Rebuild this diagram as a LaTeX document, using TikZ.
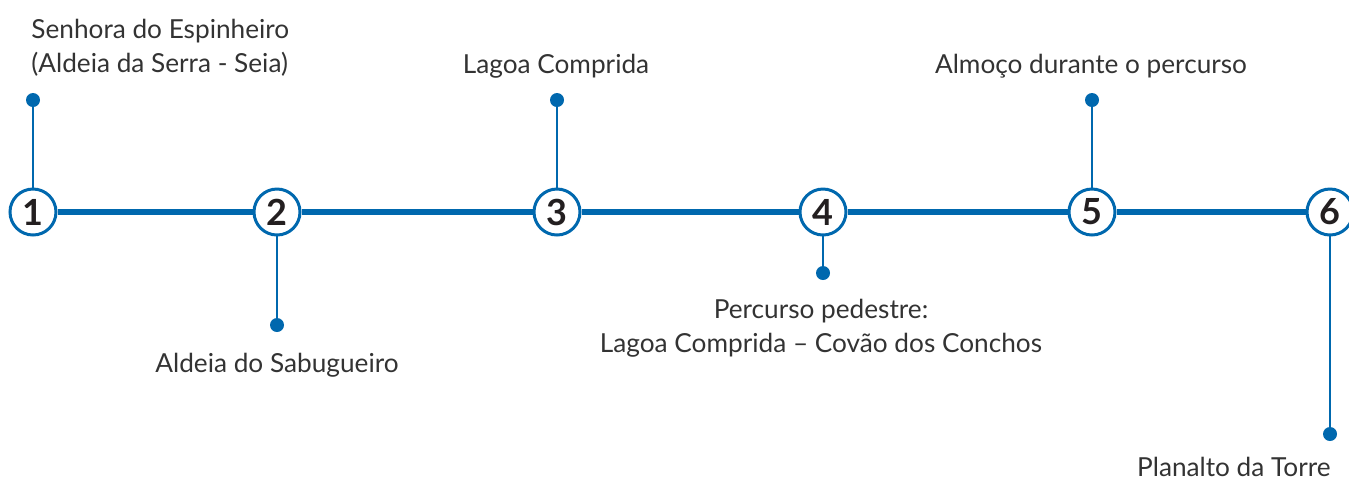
\documentclass[tikz,border=0pt]{standalone}
\usepackage{fontspec}
\setmainfont{Lato}
\definecolor{routeblue}{HTML}{0068AE}
\definecolor{labelgray}{HTML}{333333}
\definecolor{numblack}{HTML}{231F20}

\begin{document}
\begin{tikzpicture}[x=0.5pt,y=-0.5pt]
			\tikzstyle{stop} = [circle, draw=routeblue, line width=1.5pt, fill=white, minimum size=23pt, inner sep=0pt, text=numblack, font=\fontsize{18}{18}\selectfont\bfseries]
			\tikzstyle{dot} = [circle, fill=routeblue, minimum size=7pt, inner sep=0pt]
			\tikzstyle{route} = [draw=routeblue, line width=2.6pt]
			\tikzstyle{link} = [draw=routeblue, line width=1pt]
			\tikzstyle{place} = [text=labelgray, inner sep=0pt, font=\fontsize{13.1}{17}\selectfont]
			\useasboundingbox (0,0) rectangle (1349,479);
			\node (d1) [dot] at (33,100) {};
			\node (d2) [dot] at (277,325) {};
			\node (d3) [dot] at (557,100) {};
			\node (d4) [dot] at (823,273) {};
			\node (d5) [dot] at (1092,100) {};
			\node (d6) [dot] at (1330,434) {};
			\draw [link] (d1) -- (33,212);
			\draw [link] (d2) -- (277,212);
			\draw [link] (d3) -- (557,212);
			\draw [link] (d4) -- (823,212);
			\draw [link] (d5) -- (1092,212);
			\draw [link] (d6) -- (1330,212);
			\node (n1) [stop] at (33,212) {1};
			\node (n2) [stop] at (277,212) {2};
			\node (n3) [stop] at (557,212) {3};
			\node (n4) [stop] at (823,212) {4};
			\node (n5) [stop] at (1092,212) {5};
			\node (n6) [stop] at (1330,212) {6};
			\draw [route] (n1) -- (n2);
			\draw [route] (n2) -- (n3);
			\draw [route] (n3) -- (n4);
			\draw [route] (n4) -- (n5);
			\draw [route] (n5) -- (n6);
			\node (t1) [place, anchor=base west, align=left] at (31,72) {Senhora do Espinheiro\\(Aldeia da Serra - Seia)};
			\node (t2) [place, anchor=base] at (277,372) {Aldeia do Sabugueiro};
			\node (t3) [place, anchor=base] at (556,73) {Lagoa Comprida};
			\node (t4) [place, anchor=base, align=center] at (821,352) {Percurso pedestre:\\Lagoa Comprida – Covão dos Conchos};
			\node (t5) [place, anchor=base] at (1091,73) {Almoço durante o percurso};
			\node (t6) [place, anchor=base east] at (1331,476) {Planalto da Torre};
		\end{tikzpicture}
\end{document}
